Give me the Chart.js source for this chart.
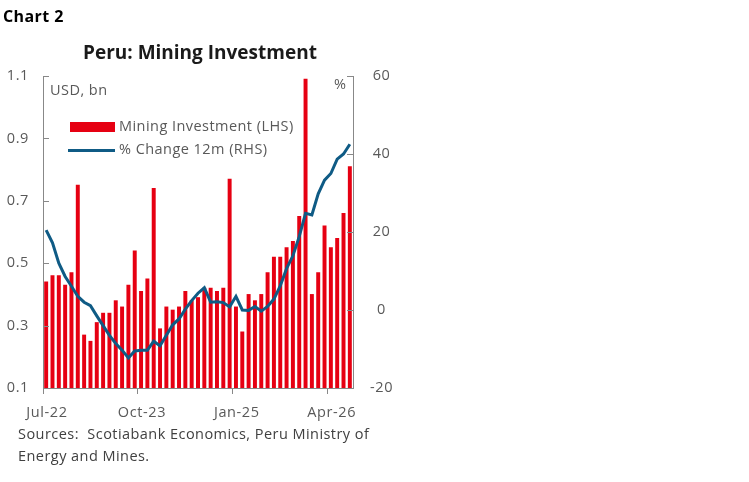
<!DOCTYPE html>
<html>
<head>
<meta charset="utf-8">
<script src="https://cdn.jsdelivr.net/npm/chart.js@4.4.1/dist/chart.umd.min.js"></script>
<style>
    html, body { margin: 0; padding: 0; background: #fff; }
    body { width: 749px; height: 482px; position: relative; overflow: hidden; font-family: "Open Sans", sans-serif; }
    #wrap { position: absolute; left: 0; top: 0; width: 749px; height: 482px; }
    .txt { position: absolute; white-space: nowrap; line-height: 1; }
    #chart-no { left: 3px; top: 8px; font-size: 16px; font-weight: bold; color: #000; letter-spacing: 0.4px; }
    #title { left: 83px; top: 43px; font-size: 19px; font-weight: bold; color: #1a1a1a; }
    #unit-l { left: 50px; top: 83px; font-size: 14.5px; color: #595959; letter-spacing: 0.45px; }
    #unit-r { left: 334px; top: 77px; font-size: 14.5px; color: #595959; }
    .leg { left: 119px; font-size: 14.5px; color: #595959; letter-spacing: 0.45px; }
    #leg-bar-box { position: absolute; left: 70px; top: 122px; width: 45px; height: 10px; background: #e60012; }
    #leg-line-box { position: absolute; left: 68px; top: 149px; width: 47px; height: 3px; background: #0f5b85; }
    #sources { left: 18px; top: 423px; font-size: 14.5px; color: #404040; line-height: 22px; letter-spacing: 0.45px; }
</style>
</head>
<body>
<div id="wrap"><canvas id="mining-chart" width="749" height="482"></canvas></div>
<div class="txt" id="chart-no">Chart 2</div>
<div class="txt" id="title">Peru: Mining Investment</div>
<div class="txt" id="unit-l">USD, bn</div>
<div class="txt" id="unit-r">%</div>
<div id="leg-bar-box"></div>
<div class="txt leg" style="top:119px">Mining Investment (LHS)</div>
<div id="leg-line-box"></div>
<div class="txt leg" style="top:142px">% Change 12m (RHS)</div>
<div class="txt" id="sources">Sources:&nbsp; Scotiabank Economics, Peru Ministry of<br>Energy and Mines.</div>

<script>
// Monthly categories
var months = [
    'Jul-22', 'Aug-22', 'Sep-22', 'Oct-22', 'Nov-22', 'Dec-22',
    'Jan-23', 'Feb-23', 'Mar-23', 'Apr-23', 'May-23', 'Jun-23',
    'Jul-23', 'Aug-23', 'Sep-23', 'Oct-23', 'Nov-23', 'Dec-23',
    'Jan-24', 'Feb-24', 'Mar-24', 'Apr-24', 'May-24', 'Jun-24',
    'Jul-24', 'Aug-24', 'Sep-24', 'Oct-24', 'Nov-24', 'Dec-24',
    'Jan-25', 'Feb-25', 'Mar-25', 'Apr-25', 'May-25', 'Jun-25',
    'Jul-25', 'Aug-25', 'Sep-25', 'Oct-25', 'Nov-25', 'Dec-25',
    'Jan-26', 'Feb-26', 'Mar-26', 'Apr-26', 'May-26', 'Jun-26',
    'Jul-26'
];

// Mining investment, USD bn (LHS)
var investment = [
    0.44, 0.46, 0.46, 0.43, 0.47, 0.75,
    0.27, 0.25, 0.31, 0.34, 0.34, 0.38,
    0.36, 0.43, 0.54, 0.41, 0.45, 0.74,
    0.29, 0.36, 0.35, 0.36, 0.41, 0.38,
    0.39, 0.42, 0.42, 0.41, 0.42, 0.77,
    0.36, 0.28, 0.40, 0.38, 0.40, 0.47,
    0.52, 0.52, 0.55, 0.57, 0.65, 1.09,
    0.40, 0.47, 0.62, 0.55, 0.58, 0.66,
    0.81
];

// % change 12m (RHS)
var pctChange = [
    20.5, 17.2, 12.0, 8.6, 6.1, 3.5,
    2.0, 1.1, -1.5, -4.0, -6.5, -8.6,
    -10.3, -12.3, -10.5, -10.3, -10.3, -8.0,
    -9.2, -6.5, -3.8, -2.3, 0.2, 2.4,
    4.3, 5.7, 2.0, 2.1, 1.9, 0.8,
    3.5, 0.0, -0.1, 0.9, -0.3, 0.9,
    2.8, 6.2, 10.6, 13.9, 18.8, 24.8,
    24.4, 29.8, 33.3, 35.0, 38.7, 40.0,
    42.5
];

// Tick labels
var xTickLabels = ['Jul-22', 'Oct-23', 'Jan-25', 'Apr-26'];
var leftTicks = [0.1, 0.3, 0.5, 0.7, 0.9, 1.1];
var rightTicks = [-20, 0, 20, 40, 60];

(function() {
    'use strict';

    var AXIS_GREY = '#888888';
    var LABEL_GREY = '#595959';
    var FONT = 'Open Sans';

    var barPoints = investment.map(function(v, i) {
        return { x: i + 0.5, y: v };
    });
    var linePoints = pctChange.map(function(v, i) {
        return { x: i + 0.5, y: v };
    });

    function setTicks(values) {
        return function(scale) {
            scale.ticks = values.map(function(v) { return { value: v }; });
        };
    }

    // slightly wider tracking on canvas text
    var tracking = {
        id: 'tracking',
        beforeUpdate: function(chart) {
            if ('letterSpacing' in chart.ctx) chart.ctx.letterSpacing = '0.6px';
        },
        beforeDraw: function(chart) {
            if ('letterSpacing' in chart.ctx) chart.ctx.letterSpacing = '0.6px';
        }
    };

    // inward tick marks on both value axes
    var innerTicks = {
        id: 'innerTicks',
        afterDraw: function(chart) {
            var ctx = chart.ctx;
            var area = chart.chartArea;
            ctx.save();
            ctx.strokeStyle = AXIS_GREY;
            ctx.lineWidth = 1;
            ctx.beginPath();
            leftTicks.forEach(function(v) {
                var y = Math.round(chart.scales.y.getPixelForValue(v)) + 0.5;
                ctx.moveTo(area.left, y);
                ctx.lineTo(area.left + 6, y);
            });
            rightTicks.forEach(function(v) {
                var y = Math.round(chart.scales.y2.getPixelForValue(v)) + 0.5;
                ctx.moveTo(area.right, y);
                ctx.lineTo(area.right - 6, y);
            });
            ctx.stroke();
            ctx.restore();
        }
    };

    var ctx = document.getElementById('mining-chart');

    new Chart(ctx, {
        data: {
            datasets: [{
                type: 'line',
                label: '% Change 12m (RHS)',
                data: linePoints,
                yAxisID: 'y2',
                borderColor: '#0f5b85',
                borderWidth: 3,
                pointRadius: 0,
                tension: 0,
                order: 0
            }, {
                type: 'bar',
                label: 'Mining Investment (LHS)',
                data: barPoints,
                yAxisID: 'y',
                backgroundColor: '#e60012',
                barThickness: 3.3,
                order: 1
            }]
        },
        plugins: [tracking, innerTicks],
        options: {
            responsive: false,
            animation: false,
            devicePixelRatio: 1,
            layout: {
                padding: { top: 76, left: 0, right: 0, bottom: 0 }
            },
            plugins: {
                legend: { display: false },
                tooltip: { enabled: false }
            },
            scales: {
                x: {
                    type: 'linear',
                    offset: false,
                    min: 0,
                    max: months.length,
                    afterBuildTicks: setTicks(xTickLabels.map(function(l) {
                        return months.indexOf(l);
                    })),
                    afterFit: function(scale) { scale.height = 94; },
                    grid: {
                        display: true,
                        offset: false,
                        drawOnChartArea: false,
                        drawTicks: true,
                        tickLength: 6,
                        color: AXIS_GREY
                    },
                    border: { display: true, color: AXIS_GREY, width: 1 },
                    ticks: {
                        autoSkip: false,
                        maxRotation: 0,
                        padding: 10,
                        labelOffset: 4,
                        color: LABEL_GREY,
                        font: { family: FONT, size: 14.5 },
                        callback: function(value) { return months[value]; }
                    }
                },
                y: {
                    position: 'left',
                    min: 0.1,
                    max: 1.1,
                    afterBuildTicks: setTicks(leftTicks),
                    afterFit: function(scale) { scale.width = 43; },
                    grid: { display: false, drawTicks: false },
                    border: { display: true, color: AXIS_GREY, width: 1 },
                    ticks: {
                        padding: 14,
                        color: LABEL_GREY,
                        font: { family: FONT, size: 14.5 },
                        callback: function(value) { return value.toFixed(1); }
                    }
                },
                y2: {
                    position: 'right',
                    min: -20,
                    max: 60,
                    afterBuildTicks: setTicks(rightTicks),
                    afterFit: function(scale) { scale.width = 749 - 353; },
                    grid: { display: false, drawTicks: false },
                    border: { display: true, color: AXIS_GREY, width: 1 },
                    ticks: {
                        padding: 17,
                        crossAlign: 'center',
                        color: LABEL_GREY,
                        font: { family: FONT, size: 14.5 }
                    }
                }
            }
        }
    });
})();
</script>
</body>
</html>
